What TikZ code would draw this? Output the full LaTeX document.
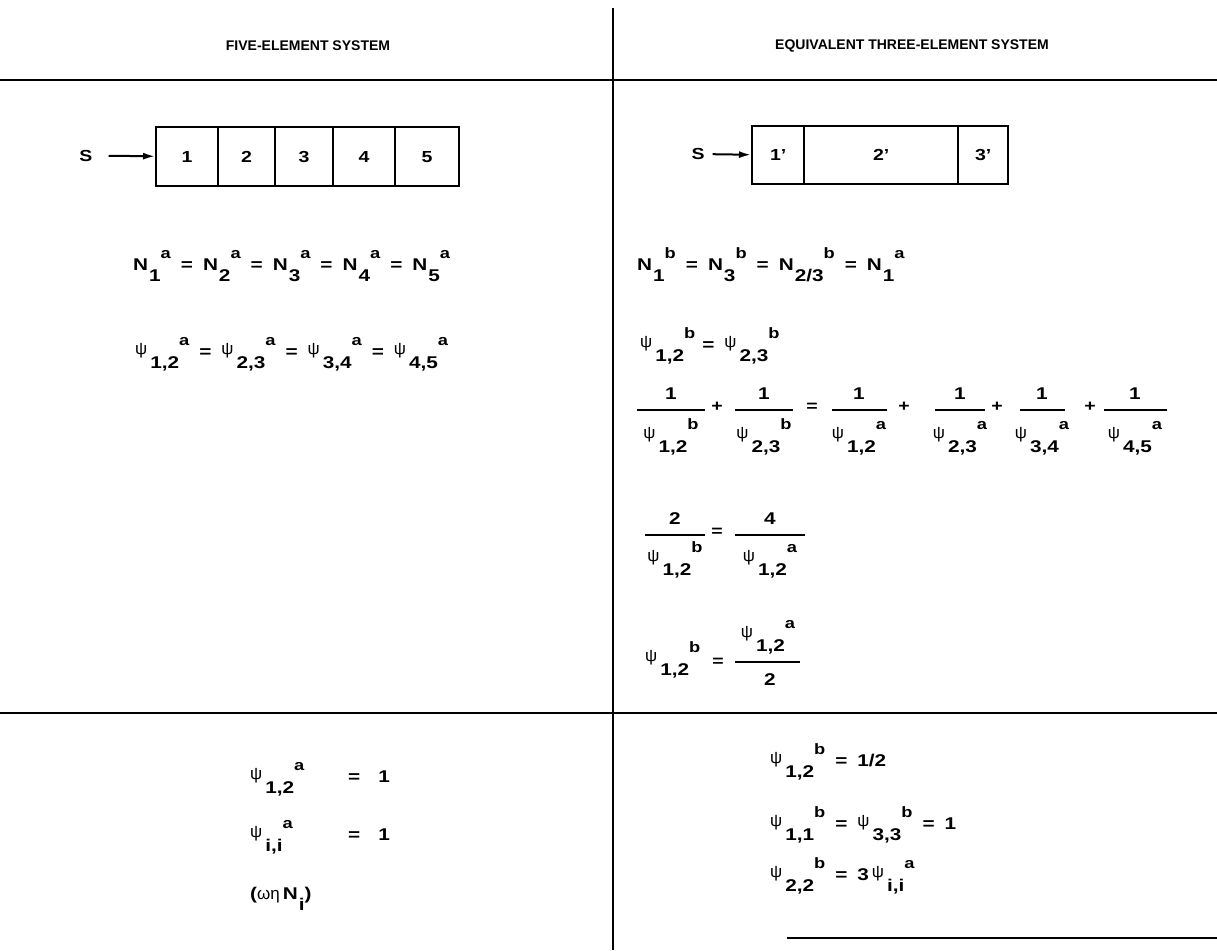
\documentclass[tikz,border=0pt]{standalone}
\usepackage{fontspec}
\setmainfont{Liberation Sans}[FakeStretch=1.22]
\newfontfamily\hdfont{Liberation Sans}
\newfontfamily\grk{Liberation Sans}
\usetikzlibrary{arrows.meta}
\newcommand{\lw}[1]{\hspace{1pt}\raisebox{-11pt}{#1}}
\newcommand{\hg}[1]{\raisebox{12pt}{\fontsize{15}{15}\selectfont #1}}
\newcommand{\ps}{\raisebox{3pt}{\grk\mdseries\fontsize{17}{17}\selectfont ψ}\hspace{2pt}}
\newcommand{\eqs}{\hspace{10pt}=\hspace{10pt}}
\begin{document}
\begin{tikzpicture}[x=1pt,y=-1pt,
  rule/.style={line width=2pt},
  cell/.style={draw, line width=2.3pt, inner sep=0pt, anchor=north west, font=\bfseries\fontsize{16}{16}\selectfont},
  eq/.style={inner sep=0pt, anchor=base west, font=\bfseries\fontsize{17}{17}\selectfont},
  eqc/.style={inner sep=0pt, anchor=base, font=\bfseries\fontsize{17}{17}\selectfont},
  op/.style={inner sep=0pt, font=\bfseries\fontsize{16}{16}\selectfont},
  head/.style={inner sep=0pt, font=\hdfont\bfseries\fontsize{14}{14}\selectfont},
  bar/.style={line width=2pt},
  arr/.style={line width=2pt, -{Latex[length=12pt,width=7pt]}}]
\useasboundingbox (0,0) rectangle (1217,950);
% grid lines
\draw[rule] (613,8) -- (613,950);
\draw[rule] (0,80) -- (1217,80);
\draw[rule] (0,713) -- (1217,713);
\draw[rule] (787,938) -- (1217,938);
% headers
\node[head] (h1) at (308,46) {FIVE-ELEMENT SYSTEM};
\node[head] (h2) at (912,46) {EQUIVALENT THREE-ELEMENT SYSTEM};
% five element box
\node[cell, minimum width=62pt, minimum height=59pt] (c1) at (155,126) {1};
\node[cell, minimum width=57pt, minimum height=59pt] (c2) at (217,126) {2};
\node[cell, minimum width=58pt, minimum height=59pt] (c3) at (274,126) {3};
\node[cell, minimum width=62pt, minimum height=59pt] (c4) at (332,126) {4};
\node[cell, minimum width=64pt, minimum height=59pt] (c5) at (394,126) {5};
\node[op, anchor=center] (sa) at (86,155.5) {S};
\draw[arr, shorten <=16pt] (sa) -- (c1);
% three element box
\node[cell, minimum width=52pt, minimum height=58pt] (d1) at (751,125) {1’};
\node[cell, minimum width=154pt, minimum height=58pt] (d2) at (803,125) {2’};
\node[cell, minimum width=50pt, minimum height=58pt] (d3) at (957,125) {3’};
\node[op, anchor=center] (sb) at (698,154) {S};
\draw[arr, shorten <=8pt] (sb) -- (d1);
% left equations
\node[eq] (ln) at (133,270) {N\lw{1}\hg{a}\eqs N\lw{2}\hg{a}\eqs N\lw{3}\hg{a}\eqs N\lw{4}\hg{a}\eqs N\lw{5}\hg{a}};
\node[eq] (lp) at (135,357) {\ps\lw{1,2}\hg{a}\eqs\ps\lw{2,3}\hg{a}\eqs\ps\lw{3,4}\hg{a}\eqs\ps\lw{4,5}\hg{a}};
% right equations
\node[eq] (rn) at (637,270) {N\lw{1}\hg{b}\eqs N\lw{3}\hg{b}\eqs N\lw{2/3}\hg{b}\eqs N\lw{1}\hg{a}};
\node[eq] (rp) at (640,350) {\ps\lw{1,2}\hg{b}\hspace{-3pt}\eqs\ps\lw{2,3}\hg{b}};
% fraction row 1
\node[eqc] (f1n) at (671,399) {1}; \draw[bar] (637,410) -- (705,410); \node[eqc] (f1d) at (671,441) {\ps\lw{1,2}\hg{b}};
\node[op] (p1) at (717,407) {+};
\node[eqc] (f2n) at (764,399) {1}; \draw[bar] (735,410) -- (793,410); \node[eqc] (f2d) at (764,441) {\ps\lw{2,3}\hg{b}};
\node[op] (e1) at (812,407) {=};
\node[eqc] (f3n) at (859,399) {1}; \draw[bar] (832,410) -- (887,410); \node[eqc] (f3d) at (859,441) {\ps\lw{1,2}\hg{a}};
\node[op] (p2) at (904,407) {+};
\node[eqc] (f4n) at (960,399) {1}; \draw[bar] (935,410) -- (985,410); \node[eqc] (f4d) at (960,441) {\ps\lw{2,3}\hg{a}};
\node[op] (p3) at (997,407) {+};
\node[eqc] (f5n) at (1042,399) {1}; \draw[bar] (1020,410) -- (1065,410); \node[eqc] (f5d) at (1042,441) {\ps\lw{3,4}\hg{a}};
\node[op] (p4) at (1090,407) {+};
\node[eqc] (f6n) at (1135,399) {1}; \draw[bar] (1104,410) -- (1167,410); \node[eqc] (f6d) at (1135,441) {\ps\lw{4,5}\hg{a}};
% fraction row 2
\node[eqc] (g1n) at (675,524) {2}; \draw[bar] (645,535) -- (705,535); \node[eqc] (g1d) at (675,564) {\ps\lw{1,2}\hg{b}};
\node[op] (e2) at (717,532) {=};
\node[eqc] (g2n) at (770,524) {4}; \draw[bar] (735,535) -- (805,535); \node[eqc] (g2d) at (770,564) {\ps\lw{1,2}\hg{a}};
% fraction row 3
\node[eq] (hl) at (645,664) {\ps\lw{1,2}\hg{b}};
\node[op] (e3) at (718,662) {=};
\node[eqc] (hn) at (768,640) {\ps\lw{1,2}\hg{a}}; \draw[bar] (735,662) -- (800,662); \node[eqc] (hd) at (770,685) {2};
% bottom left
\node[eq] (bl1) at (250,782) {\ps\lw{1,2}\hg{a}};
\node[eq] (bl1r) at (348,782) {=\hspace{18pt}1};
\node[eq] (bl2) at (250,840) {\ps\lw{i,i}\hg{a}};
\node[eq] (bl2r) at (348,840) {=\hspace{18pt}1};
\node[eq] (bl3) at (250,899) {({\grk\mdseries ωη}\hspace{3pt}N\lw{i})};
% bottom right
\node[eq] (br1) at (770,766) {\ps\lw{1,2}\hg{b}\eqs 1/2};
\node[eq] (br2) at (770,829) {\ps\lw{1,1}\hg{b}\eqs\ps\lw{3,3}\hg{b}\eqs 1};
\node[eq] (br3) at (770,880) {\ps\lw{2,2}\hg{b}\eqs 3\hspace{3pt}\ps\lw{i,i}\hg{a}};
\end{tikzpicture}
\end{document}
